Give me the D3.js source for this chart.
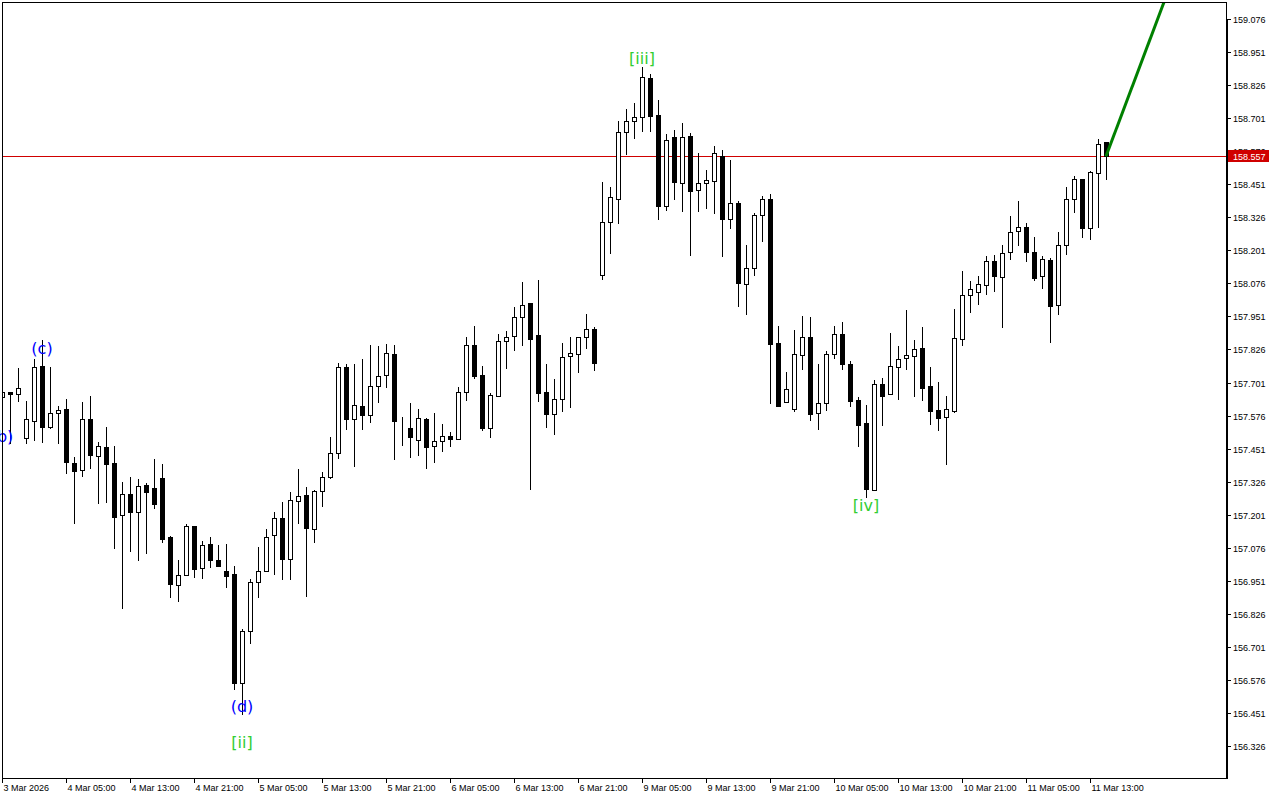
<!DOCTYPE html>
<html><head><meta charset="utf-8">
<script src="https://cdn.jsdelivr.net/npm/d3@7"></script>
<style>body{margin:0;background:#fff}svg{display:block}</style>
</head><body>
<script>
// Hourly candles (index 0 = 3 Mar 21:00)
const openP = [157.646,157.665,157.656,157.490,157.554,157.763,157.531,157.584,157.599,157.395,
157.369,157.562,157.424,157.456,157.395,157.199,157.278,157.212,157.312,157.301,
157.338,157.115,156.934,156.972,157.157,156.998,157.089,157.028,156.987,156.975,
156.563,156.760,156.945,156.987,157.123,157.187,157.034,157.251,157.274,157.146,
157.290,157.342,157.433,157.758,157.562,157.611,157.577,157.686,157.728,157.809,
157.556,157.528,157.482,157.562,157.460,157.480,157.497,157.486,157.664,157.843,
157.728,157.528,157.649,157.857,157.876,157.947,158.000,157.879,157.664,157.581,
157.637,157.800,157.807,157.872,157.902,158.106,158.309,158.396,158.647,158.689,
158.704,158.851,158.711,158.369,158.628,158.456,158.632,158.431,158.454,158.462,
158.556,158.318,158.379,158.074,158.133,158.333,158.394,157.849,157.626,157.601,
157.804,157.872,157.584,157.622,157.807,157.883,157.771,157.635,157.546,157.293,
157.694,157.656,157.758,157.792,157.800,157.830,157.686,157.596,157.569,157.594,
157.864,158.031,158.042,158.068,158.159,158.099,158.193,158.273,158.288,158.193,
158.102,158.163,157.993,158.220,158.397,158.469,158.284,158.492,158.609];
const highP = [157.669,157.665,157.755,157.631,157.789,157.862,157.758,157.612,157.638,157.419,
157.628,157.650,157.475,157.531,157.461,157.324,157.343,157.336,157.320,157.411,
157.393,157.120,157.029,157.166,157.157,157.101,157.116,157.086,157.090,157.007,
156.767,156.958,157.079,157.147,157.210,157.249,157.286,157.374,157.304,157.294,
157.362,157.494,157.773,157.771,157.771,157.790,157.843,157.839,157.846,157.843,
157.569,157.623,157.599,157.567,157.584,157.543,157.512,157.684,157.873,157.914,
157.763,157.661,157.884,157.896,157.986,158.081,158.000,158.088,157.770,157.714,
157.850,157.873,157.872,157.960,157.911,158.459,158.440,158.690,158.735,158.758,
158.895,158.868,158.768,158.640,158.655,158.681,158.643,158.571,158.504,158.594,
158.579,158.542,158.388,158.221,158.342,158.406,158.414,157.914,157.741,157.899,
157.952,157.949,157.771,157.819,157.914,157.928,157.781,157.645,157.615,157.710,
157.717,157.888,157.839,157.975,157.862,157.911,157.759,157.703,157.650,157.979,
158.123,158.084,158.104,158.179,158.183,158.220,158.329,158.387,158.303,158.250,
158.178,158.172,158.269,158.439,158.484,158.469,158.500,158.621,158.609];
const lowP = [157.638,157.471,157.632,157.473,157.483,157.477,157.528,157.471,157.360,157.171,
157.347,157.376,157.246,157.250,157.076,156.849,157.065,157.031,157.055,157.227,
157.096,156.888,156.876,156.972,156.964,156.963,157.004,157.006,156.928,156.540,
156.447,156.714,156.888,156.987,156.975,156.956,156.956,157.171,156.894,157.099,
157.234,157.340,157.416,157.524,157.386,157.526,157.550,157.628,157.685,157.410,
157.466,157.418,157.428,157.376,157.401,157.443,157.462,157.486,157.635,157.719,
157.521,157.496,157.649,157.757,157.825,157.844,157.299,157.632,157.534,157.507,
157.593,157.609,157.742,157.832,157.749,158.092,158.192,158.305,158.566,158.627,
158.653,158.653,158.320,158.354,158.395,158.351,158.184,158.351,158.362,158.343,
158.180,158.286,157.990,157.961,158.107,158.236,157.624,157.613,157.626,157.594,
157.753,157.560,157.526,157.596,157.795,157.753,157.613,157.462,157.267,157.293,
157.541,157.656,157.640,157.752,157.651,157.636,157.545,157.522,157.394,157.590,
157.841,157.969,157.999,158.037,158.048,157.912,158.169,158.222,158.159,158.087,
158.057,157.855,157.959,158.188,158.345,158.250,158.242,158.288,158.472];
const closeP = [157.664,157.656,157.679,157.562,157.758,157.534,157.584,157.596,157.401,157.367,
157.562,157.428,157.460,157.394,157.193,157.278,157.212,157.309,157.288,157.242,
157.110,156.938,156.972,157.157,156.997,157.085,157.028,157.006,156.970,156.565,
156.761,156.945,156.987,157.116,157.187,157.034,157.255,157.273,157.149,157.290,
157.342,157.433,157.758,157.562,157.615,157.577,157.686,157.724,157.811,157.554,
157.557,157.494,157.565,157.458,157.478,157.497,157.486,157.664,157.841,157.727,
157.530,157.652,157.857,157.872,157.947,157.993,157.866,157.662,157.583,157.637,
157.796,157.811,157.872,157.902,157.776,158.307,158.401,158.647,158.692,158.704,
158.855,158.710,158.369,158.617,158.460,158.628,158.426,158.454,158.466,158.568,
158.318,158.379,158.078,158.133,158.334,158.394,157.848,157.613,157.675,157.807,
157.872,157.583,157.622,157.807,157.883,157.772,157.632,157.541,157.299,157.694,
157.651,157.762,157.789,157.804,157.826,157.681,157.594,157.565,157.599,157.868,
158.031,158.053,158.072,158.159,158.102,158.189,158.269,158.288,158.193,158.097,
158.167,157.991,158.220,158.397,158.469,158.284,158.496,158.605,158.558];

// time axis labels, one every 8 candles starting at candle 0
const timeLabels = ["3 Mar 2026","4 Mar 05:00","4 Mar 13:00","4 Mar 21:00","5 Mar 05:00","5 Mar 13:00",
"5 Mar 21:00","6 Mar 05:00","6 Mar 13:00","6 Mar 21:00","9 Mar 05:00","9 Mar 13:00","9 Mar 21:00",
"10 Mar 05:00","10 Mar 13:00","10 Mar 21:00","11 Mar 05:00","11 Mar 13:00"];
const priceTicks = [159.076,158.951,158.826,158.701,158.576,158.451,158.326,158.201,158.076,157.951,
157.826,157.701,157.576,157.451,157.326,157.201,157.076,156.951,156.826,156.701,156.576,156.451,156.326];
const currentPrice = 158.557;
// projected wave line: [candle index, price]
const projIdx = [138, 146];
const projPrice = [158.557, 159.2];
// wave labels
const waveText = ["(b)","(c)","(d)","[ii]","[iii]","[iv]"];
const waveIdx = [0, 5, 30, 30, 80, 108];
const wavePrice = [157.495, 157.828, 156.476, 156.341, 158.928, 157.234];
const waveColor = ["blue","blue","blue","limegreen","limegreen","limegreen"];

const W = 1280, H = 800;
const plot = {l: 2, t: 2, r: 1226, b: 778};
const n = openP.length;
const x = d3.scaleLinear().domain([0, n - 1]).range([2, 2 + 8 * (n - 1)]);
const y = d3.scaleLinear().domain([156.326, 159.076]).range([746, 19]);

const svg = d3.select("body").append("svg").attr("width", W).attr("height", H)
  .style("font-family", "'Liberation Sans', Arial, sans-serif");
svg.append("rect").attr("width", W).attr("height", H).attr("fill", "#fff");

svg.append("defs").append("clipPath").attr("id", "clip").append("rect")
  .attr("x", plot.l).attr("y", plot.t).attr("width", plot.r - plot.l).attr("height", plot.b - plot.t);

const g = svg.append("g").attr("clip-path", "url(#clip)");

// current price line
const cy = Math.round(y(currentPrice)) + 0.5;
g.append("line").attr("x1", plot.l).attr("x2", plot.r).attr("y1", cy).attr("y2", cy)
  .attr("stroke", "#d00000").attr("stroke-width", 1);

const data = d3.range(n).map(i => ({i, o: openP[i], h: highP[i], l: lowP[i], c: closeP[i]}));
const cg = g.selectAll("g.c").data(data).join("g").attr("class", "c");
cg.append("line")
  .attr("x1", d => Math.round(x(d.i)) + 0.5).attr("x2", d => Math.round(x(d.i)) + 0.5)
  .attr("y1", d => Math.round(y(d.h))).attr("y2", d => Math.round(y(d.l)) + 1)
  .attr("stroke", "#000").attr("stroke-width", 1);
cg.append("rect")
  .attr("x", d => Math.round(x(d.i)) - 2 + 0.5)
  .attr("width", 4)
  .attr("y", d => Math.round(y(Math.max(d.o, d.c))) + 0.5)
  .attr("height", d => Math.max(0, Math.round(y(Math.min(d.o, d.c))) - Math.round(y(Math.max(d.o, d.c)))))
  .attr("fill", d => d.c >= d.o ? "#fff" : "#000")
  .attr("stroke", "#000").attr("stroke-width", 1);

// projection line
g.append("line")
  .attr("x1", x(projIdx[0])).attr("y1", y(projPrice[0]))
  .attr("x2", x(projIdx[1])).attr("y2", y(projPrice[1]))
  .attr("stroke", "#008000").attr("stroke-width", 3);

// wave labels
svg.append("g").selectAll("text").data(waveText).join("text")
  .attr("x", (d, k) => x(waveIdx[k])).attr("y", (d, k) => y(wavePrice[k]))
  .attr("text-anchor", "middle").attr("dominant-baseline", "central")
  .attr("fill", (d, k) => waveColor[k])
  .style("font-family", "'DejaVu Sans', sans-serif").style("font-size", "16px")
  .text(d => d);

// frame
svg.append("rect").attr("x", plot.l + 0.5).attr("y", plot.t + 0.5)
  .attr("width", plot.r - plot.l).attr("height", plot.b - plot.t)
  .attr("fill", "none").attr("stroke", "#000");
svg.append("line").attr("x1", plot.r + 1.5).attr("x2", plot.r + 1.5).attr("y1", 20).attr("y2", plot.b + 1)
  .attr("stroke", "#000").attr("stroke-width", 1);

// price axis
const pa = svg.append("g");
priceTicks.forEach(p => {
  const ty = Math.round(y(p)) + 0.5;
  pa.append("line").attr("x1", plot.r + 1).attr("x2", plot.r + 5).attr("y1", ty).attr("y2", ty).attr("stroke", "#000");
  pa.append("text").attr("x", 1233).attr("y", ty + 3.5).attr("font-size", 9).attr("fill", "#000").text(p.toFixed(3));
});
// current price badge
pa.append("rect").attr("x", 1228).attr("y", cy - 6.5).attr("width", 41).attr("height", 12).attr("fill", "#d00000");
pa.append("text").attr("x", 1233).attr("y", cy + 3.5).attr("font-size", 9).attr("fill", "#fff").text(currentPrice.toFixed(3));

// time axis
const ta = svg.append("g");
timeLabels.forEach((t, k) => {
  const tx = Math.round(x(k * 8)) + 0.5;
  ta.append("line").attr("x1", tx).attr("x2", tx).attr("y1", plot.b).attr("y2", plot.b + 5).attr("stroke", "#000");
  ta.append("text").attr("x", tx + 1).attr("y", 791).attr("font-size", 9).attr("fill", "#000").text(t);
});
</script>
</body></html>
